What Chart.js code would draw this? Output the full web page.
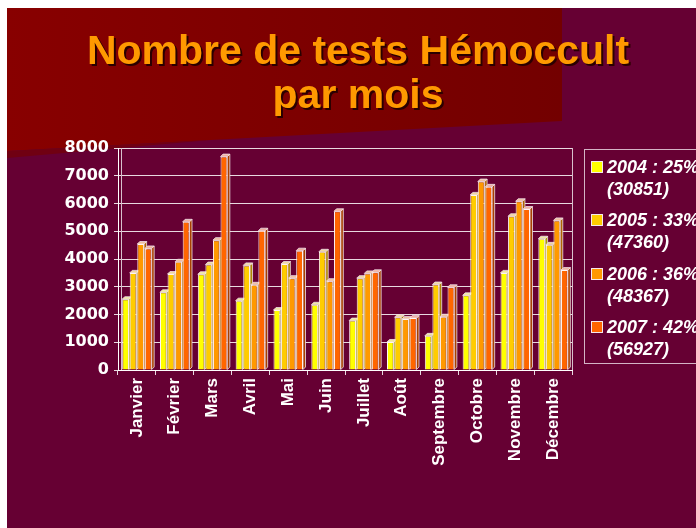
<!DOCTYPE html>
<html>
<head>
<meta charset="utf-8">
<script src="https://cdn.jsdelivr.net/npm/chart.js@4"></script>
<style>
  body { margin: 0; overflow: hidden; background: #fff; }
  #wrap { position: relative; width: 696px; height: 528px; overflow: hidden; }
  #titre {
    position: absolute; left: 0; top: 28px; width: 716px; text-align: center;
    font: bold 41px "Liberation Sans", Arial, sans-serif; line-height: 44px;
    color: #ff9900; text-shadow: 2px 2px 0 #2a0000;
  }
  #legende {
    position: absolute; left: 584px; top: 149px; width: 140px; height: 213px;
    border: 1px solid #d4b4c6;
  }
  .item { position: absolute; left: 0; }
  .item span.carre {
    position: absolute; left: 6px; top: 5px; width: 10px; height: 10px;
    border: 1px solid #f4e8ee;
  }
  .item div.txt {
    position: absolute; left: 22px; top: 0; white-space: nowrap;
    font: italic bold 18px "Liberation Sans", Arial, sans-serif; line-height: 22px;
    color: #fff;
  }
</style>
</head>
<body>
<div id="wrap">
  <canvas id="graph" width="696" height="528"></canvas>
  <div id="titre">Nombre de tests Hémoccult<br>par mois</div>
  <div id="legende"></div>
</div>
<script>
// donnees
const mois = ['Janvier', 'Février', 'Mars', 'Avril', 'Mai', 'Juin', 'Juillet', 'Août', 'Septembre', 'Octobre', 'Novembre', 'Décembre'];
const annees = ['2004', '2005', '2006', '2007'];
const pourcents = ['25%', '33%', '36%', '42%'];
const totaux = ['30851', '47360', '48367', '56927'];
const tests2004 = [2550, 2800, 3450, 2500, 2160, 2350, 1780, 1010, 1230, 2690, 3500, 4730];
const tests2005 = [3500, 3460, 3800, 3770, 3820, 4260, 3310, 1900, 3080, 6310, 5540, 4510];
const tests2006 = [4540, 3900, 4680, 3070, 3310, 3200, 3480, 1840, 1920, 6790, 6080, 5390];
const tests2007 = [4380, 5340, 7690, 5020, 4300, 5720, 3520, 1870, 2980, 6600, 5800, 3600];
const yTicks = [0, 1000, 2000, 3000, 4000, 5000, 6000, 7000, 8000];
const couleurs = ['#ffff00', '#ffcc00', '#ff9900', '#ff6600'];
const cotes = ['#a8a000', '#b08800', '#b06400', '#a84000'];
const dessus = ['#f0e8a0', '#f0d8a0', '#f0c0a0', '#f0b0a0'];

const series = [tests2004, tests2005, tests2006, tests2007];
const PROF = 2.5;

// fond de la diapo
const fondPlugin = {
  id: 'fond',
  beforeDraw(chart) {
    const ctx = chart.ctx;
    ctx.save();
    ctx.fillStyle = '#ffffff';
    ctx.fillRect(0, 0, chart.width, chart.height);
    ctx.fillStyle = '#660033';
    ctx.fillRect(7, 8, chart.width, chart.height);
    const g = ctx.createLinearGradient(7, 0, 562, 0);
    g.addColorStop(0, '#880000');
    g.addColorStop(1, '#730000');
    ctx.fillStyle = g;
    ctx.beginPath();
    ctx.moveTo(7, 8); ctx.lineTo(562, 8); ctx.lineTo(562, 121); ctx.lineTo(7, 151);
    ctx.closePath(); ctx.fill();
    ctx.fillStyle = '#700012';
    ctx.beginPath();
    ctx.moveTo(7, 151); ctx.lineTo(210, 140); ctx.lineTo(7, 158);
    ctx.closePath(); ctx.fill();
    ctx.restore();
  },
  // mur du fond + relief des barres, avant les faces avant
  beforeDatasetsDraw(chart) {
    const { ctx, chartArea } = chart;
    ctx.save();
    ctx.strokeStyle = '#d8c0cc';
    ctx.lineWidth = 1;
    ctx.beginPath();
    ctx.moveTo(chartArea.right + 0.5, chartArea.top);
    ctx.lineTo(chartArea.right + 0.5, chartArea.bottom);
    ctx.moveTo(chartArea.left + 3.5, chartArea.top);
    ctx.lineTo(chartArea.left + 3.5, chartArea.bottom);
    ctx.stroke();

    ctx.lineWidth = 0.8;
    ctx.strokeStyle = '#f0e0e8';
    chart.data.datasets.forEach((ds, i) => {
      chart.getDatasetMeta(i).data.forEach(bar => {
        const l = bar.x - bar.width / 2, r = bar.x + bar.width / 2;
        const t = bar.y, b = bar.base;
        ctx.fillStyle = cotes[i];
        ctx.beginPath();
        ctx.moveTo(r, t); ctx.lineTo(r + PROF, t - PROF); ctx.lineTo(r + PROF, b - PROF); ctx.lineTo(r, b);
        ctx.closePath(); ctx.fill(); ctx.stroke();
        ctx.fillStyle = dessus[i];
        ctx.beginPath();
        ctx.moveTo(l, t); ctx.lineTo(l + PROF, t - PROF); ctx.lineTo(r + PROF, t - PROF); ctx.lineTo(r, t);
        ctx.closePath(); ctx.fill(); ctx.stroke();
      });
    });
    ctx.restore();
  }
};

const datasets = annees.map((a, i) => ({
  label: a,
  data: series[i],
  backgroundColor: couleurs[i],
  borderColor: '#fff4f4',
  borderWidth: 1
}));

new Chart(document.getElementById('graph'), {
  type: 'bar',
  data: { labels: mois, datasets: datasets },
  options: {
    responsive: false,
    animation: false,
    devicePixelRatio: 1,
    layout: { padding: { left: 0, top: 148, right: 124, bottom: 0 } },
    datasets: { bar: { categoryPercentage: 0.8, barPercentage: 0.9 } },
    plugins: { legend: { display: false }, tooltip: { enabled: false } },
    scales: {
      x: {
        grid: { drawOnChartArea: false, tickLength: 5, color: '#e8d8e0', offset: true },
        border: { color: '#ffffff' },
        ticks: {
          color: '#ffffff', autoSkip: false, minRotation: 90, maxRotation: 90, padding: 3,
          font: { family: '"Liberation Sans", Arial, sans-serif', size: 17, weight: 'bold' }
        },
        afterFit(s) { s.height = 158; }
      },
      y: {
        min: 0, max: 8000,
        afterBuildTicks(s) { s.ticks = yTicks.map(v => ({ value: v })); },
        grid: { color: 'rgba(255,255,255,0.85)', tickLength: 4 },
        border: { color: '#ffffff' },
        ticks: {
          color: '#ffffff', padding: 5,
          callback: v => String(v),
          font: { family: '"DejaVu Sans", Verdana, sans-serif', size: 16, weight: 'bold' }
        },
        afterFit(s) { s.width = 118; }
      }
    }
  },
  plugins: [fondPlugin]
});

// legende sur deux lignes
const leg = document.getElementById('legende');
annees.forEach((a, i) => {
  const it = document.createElement('div');
  it.className = 'item';
  it.style.top = (6 + i * 53.3) + 'px';
  it.innerHTML = '<span class="carre" style="background:' + couleurs[i] + '"></span>' +
    '<div class="txt">' + a + ' : ' + pourcents[i] + '<br>(' + totaux[i] + ')</div>';
  leg.appendChild(it);
});
</script>
</body>
</html>
